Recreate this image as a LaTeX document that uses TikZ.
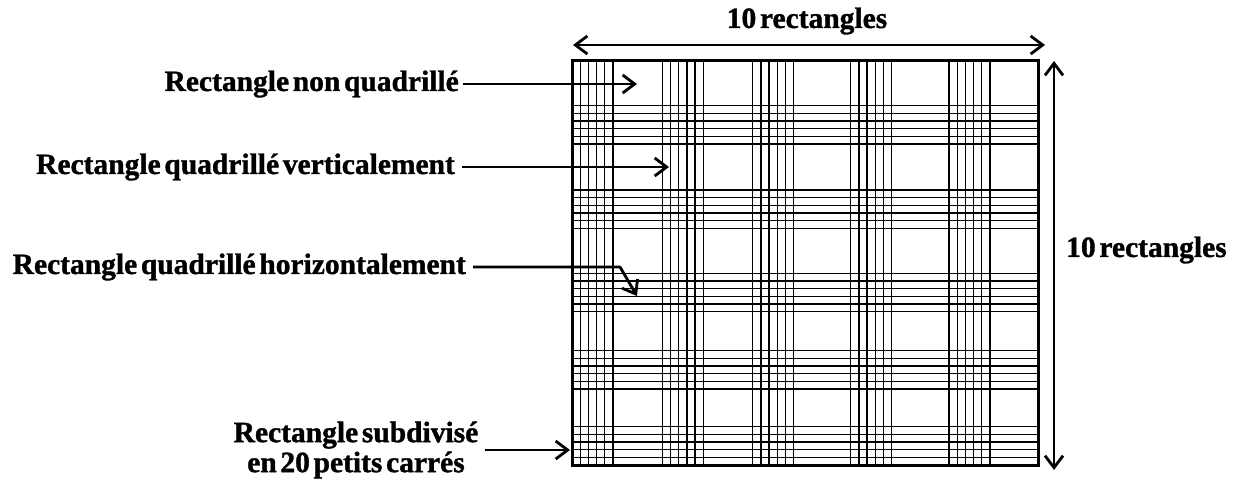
\documentclass[tikz,border=0pt]{standalone}
\usepackage{fontspec}
\setmainfont{Liberation Serif}[WordSpace=0.5,BoldFeatures={FakeBold=1.2}]
\usetikzlibrary{arrows.meta}

\begin{document}
\begin{tikzpicture}[
  x=1pt,y=-1pt,
  font=\fontsize{29.5}{30}\selectfont\bfseries,
  lbl/.style={inner sep=0pt,anchor=east},
  gridline/.style={line width=1.3pt},
  frame/.style={line width=3pt},
  pointer/.style={line width=2.8pt,-{Straight Barb[length=12pt,width=18pt,line width=2.8pt]}},
  dimline/.style={line width=2.8pt,{Straight Barb[length=12pt,width=18pt,line width=2.8pt]}-{Straight Barb[length=12pt,width=18pt,line width=2.8pt]}}
]
\useasboundingbox (0,0) rectangle (1242,480);

% the square of 10 x 10 rectangles
\coordinate (nw) at (572,60);
\coordinate (se) at (1038,465);
\foreach \xa in {572,662.3,752.7,850.7,949}
  \foreach \k in {0,...,5}
    \draw[gridline] ({\xa+\k*8.2},60) -- ({\xa+\k*8.2},465);
\foreach \ya in {105.7,190,273.3,350.7,426.7}
  \foreach \k in {0,...,5}
    \draw[gridline] (572,{\ya+\k*7.66}) -- (1038,{\ya+\k*7.66});
\draw[frame] (nw) rectangle (se);

% labels on the left
\node[lbl] (nonq) at (459,84) {Rectangle non quadrillé};
\node[lbl] (vert) at (455,167) {Rectangle quadrillé verticalement};
\node[lbl] (horiz) at (466,267) {Rectangle quadrillé horizontalement};
\node[inner sep=0pt,align=center] (subd) at (356,450) {Rectangle subdivisé\\en 20 petits carrés};

\coordinate (tnonq) at (637,84);
\coordinate (tvert) at (669,167);
\coordinate (bend) at (620,267);
\coordinate (thoriz) at (637,296);
\coordinate (tsubd) at (570,450);

\draw[pointer] ([xshift=4pt]nonq.east) -- (tnonq);
\draw[pointer] ([xshift=7pt]vert.east) -- (tvert);
\draw[pointer,line join=round] ([xshift=7pt]horiz.east) -- (bend) -- (thoriz);
\draw[pointer] ([xshift=6pt]subd.east) -- (tsubd);

% dimensions
\node (toplbl) at (807,21) {10 rectangles};
\node[inner sep=0pt,anchor=west] (sidelbl) at (1066,250) {10 rectangles};
\coordinate (ta) at (573,45);
\coordinate (tb) at (1045,45);
\coordinate (sa) at (1054,61);
\coordinate (sb) at (1054,470);
\draw[dimline] (ta) -- (tb);
\draw[dimline] (sa) -- (sb);
\end{tikzpicture}
\end{document}
